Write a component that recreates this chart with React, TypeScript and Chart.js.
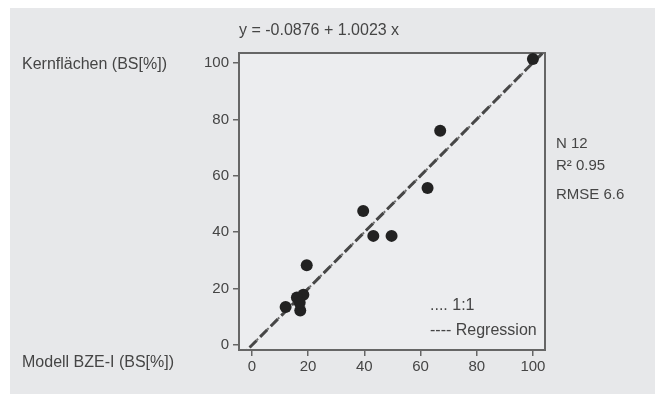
import React, { useEffect, useRef } from "react";
import { Chart, registerables } from "chart.js";

Chart.register(...registerables);

// Data
const modelX = [100, 67, 62.5, 39.6, 43.2, 49.7, 19.5, 18.3, 16, 17.2, 12, 17];
const kernY = [101.5, 76, 55.7, 47.5, 38.7, 38.7, 28.3, 17.8, 16.8, 12.2, 13.5, 15];
const xTicks = [0, 20, 40, 60, 80, 100];
const yTicks = [0, 20, 40, 60, 80, 100];
const xRange = [-4.6, 104.3];
const yRange = [-1.8, 103.6];
const intercept = -0.0876;
const slope = 1.0023;

const equationText = "y = -0.0876 + 1.0023 x";
const yLabel = "Kernflächen (BS[%])";
const xLabel = "Modell BZE-I (BS[%])";
const statsLines = ["N 12", "R² 0.95", "RMSE 6.6"];
const legendLines = [".... 1:1", "---- Regression"];

const FONT = "'Liberation Sans', Arial, Helvetica, sans-serif";
const TEXT = "#454545";

const decorPlugin = {
  id: "decor",
  beforeDraw(chart: any) {
    const { ctx, chartArea: a } = chart;
    ctx.save();
    ctx.fillStyle = "#ffffff";
    ctx.fillRect(0, 0, chart.width, chart.height);
    ctx.fillStyle = "#e7e8ea";
    ctx.fillRect(10, 8, 645, 386);
    ctx.fillStyle = "#ecedef";
    ctx.fillRect(a.left, a.top, a.right - a.left, a.bottom - a.top);
    ctx.restore();
  },
  beforeDatasetsDraw(chart: any) {
    const { ctx, chartArea: a } = chart;
    ctx.save();
    ctx.strokeStyle = "#666666";
    ctx.lineWidth = 2;
    ctx.strokeRect(a.left, a.top, a.right - a.left, a.bottom - a.top);
    ctx.restore();
  },
  afterDraw(chart: any) {
    const { ctx } = chart;
    ctx.save();
    ctx.fillStyle = TEXT;
    ctx.textBaseline = "middle";
    ctx.textAlign = "left";
    ctx.font = `16px ${FONT}`;
    ctx.fillText(equationText, 239, 31);
    ctx.fillText(yLabel, 22, 65);
    ctx.fillText(xLabel, 22, 363);
    ctx.font = `15px ${FONT}`;
    const sy = [144, 166, 195];
    statsLines.forEach((t, i) => ctx.fillText(t, 556, sy[i]));
    ctx.font = `16px ${FONT}`;
    const ly = [306, 331];
    legendLines.forEach((t, i) => ctx.fillText(t, 430, ly[i]));
    ctx.restore();
  },
};

export default function App() {
  const ref = useRef<HTMLCanvasElement | null>(null);
  useEffect(() => {
    document.body.style.margin = "0";
    if (!ref.current) return;
    const points = modelX.map((x, i) => ({ x, y: kernY[i] }));
    const regLine = xRange.map((x) => ({ x, y: intercept + slope * x }));
    const oneLine = xRange.map((x) => ({ x, y: x }));
    const chart = new Chart(ref.current, {
      type: "scatter",
      data: {
        datasets: [
          {
            label: "Punkte",
            data: points,
            pointRadius: 6,
            pointHoverRadius: 6,
            backgroundColor: "#222222",
            borderWidth: 0,
            showLine: false,
            clip: false,
          } as any,
          {
            label: "Regression",
            data: regLine,
            showLine: true,
            borderColor: "#474747",
            borderWidth: 3,
            borderDash: [10, 5],
            pointRadius: 0,
            clip: 0,
          } as any,
          {
            label: "1:1",
            data: oneLine,
            showLine: true,
            borderColor: "#6a6a6a",
            borderWidth: 2,
            borderDash: [2, 3],
            pointRadius: 0,
            clip: 0,
          } as any,
        ],
      },
      options: {
        responsive: false,
        animation: false,
        events: [],
        layout: { padding: { top: 53, right: 115, left: 0, bottom: 0 } },
        plugins: {
          legend: { display: false },
          tooltip: { enabled: false },
          title: { display: false },
        },
        scales: {
          x: {
            type: "linear",
            min: xRange[0],
            max: xRange[1],
            afterBuildTicks: (s: any) => {
              s.ticks = xTicks.map((v) => ({ value: v }));
            },
            afterFit: (s: any) => {
              s.height = 44;
            },
            ticks: {
              font: { size: 15, family: FONT },
              color: TEXT,
              padding: 2,
              maxRotation: 0,
            },
            grid: {
              display: true,
              drawOnChartArea: false,
              drawTicks: true,
              tickLength: 6,
              color: "#666666",
              lineWidth: 1.5,
            },
            border: { display: true, color: "#666666", width: 2 },
          },
          y: {
            type: "linear",
            min: yRange[0],
            max: yRange[1],
            afterBuildTicks: (s: any) => {
              s.ticks = yTicks.map((v) => ({ value: v }));
            },
            afterFit: (s: any) => {
              s.width = 239;
            },
            ticks: {
              font: { size: 15, family: FONT },
              color: TEXT,
              padding: 4,
            },
            grid: {
              display: true,
              drawOnChartArea: false,
              drawTicks: true,
              tickLength: 6,
              color: "#666666",
              lineWidth: 1.5,
            },
            border: { display: true, color: "#666666", width: 2 },
          },
        },
      } as any,
      plugins: [decorPlugin],
    });
    return () => chart.destroy();
  }, []);
  return (
    <div style={{ width: 660, height: 394 }}>
      <canvas ref={ref} width={660} height={394} style={{ display: "block" }} />
    </div>
  );
}
